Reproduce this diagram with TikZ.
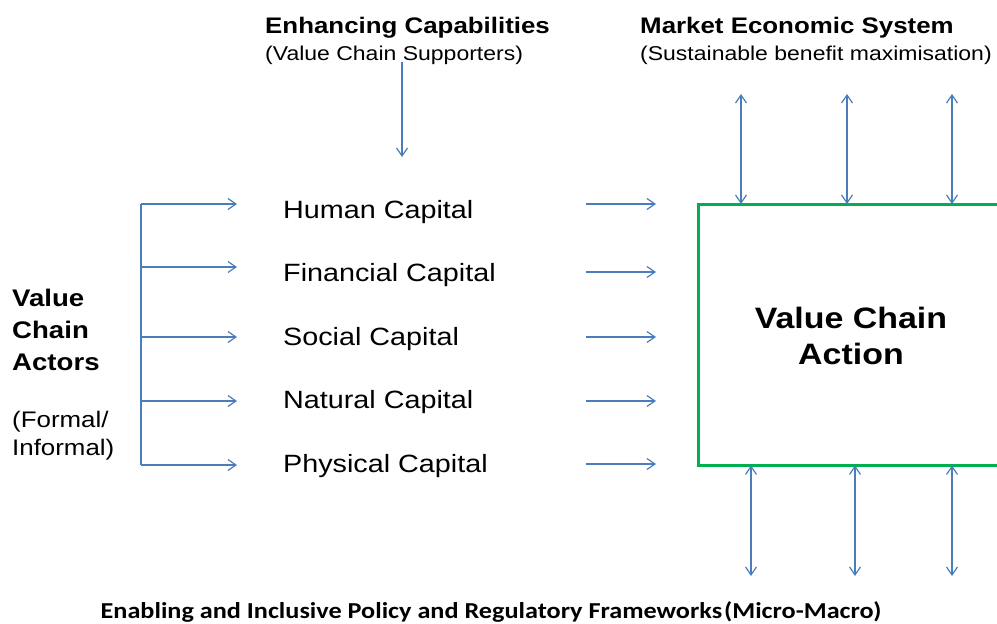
\documentclass[tikz,border=0pt]{standalone}
\usepackage{fontspec}
\setmainfont{Liberation Sans}[FakeStretch=1.15]
\newfontfamily\calibfont{Carlito}[FakeStretch=1.15]
\usetikzlibrary{arrows.meta}
\definecolor{arrblue}{HTML}{4A7EBB}
\definecolor{boxgreen}{HTML}{00B050}
\begin{document}
\begin{tikzpicture}[x=1pt,y=-1pt,
  tip/.tip={Straight Barb[length=8pt,width=11pt,line width=1.2pt]},
  conn/.style={draw=arrblue,line width=1.2pt,-tip},
  dconn/.style={draw=arrblue,line width=1.2pt,tip-tip},
  bracket/.style={draw=arrblue,line width=1.2pt},
  titletext/.style={anchor=base west,inner sep=0pt,font=\bfseries\fontsize{22.5}{27}\selectfont},
  subtext/.style={anchor=base west,inner sep=0pt,font=\fontsize{20}{24}\selectfont},
  captext/.style={anchor=base west,inner sep=0pt,font=\fontsize{25}{30}\selectfont},
  greenbox/.style={draw=boxgreen,line width=3pt},
]
\useasboundingbox (0,0) rectangle (997,624);

% titles
\node[titletext] (ect) at (265,33) {Enhancing Capabilities};
\node[subtext] (ecs) at (265,60) {(Value Chain Supporters)};
\node[titletext] (mest) at (640,33) {Market Economic System};
\node[subtext] (mess) at (640,60) {(Sustainable benefit maximisation)};

% enhancing arrow
\coordinate (e1) at (402,62);
\coordinate (e2) at (402,157);
\draw[conn] (e1) -- (e2);

% capital labels
\node[captext] (hc) at (283,218) {Human Capital};
\node[captext] (fc) at (283,281) {Financial Capital};
\node[captext] (sc) at (283,345) {Social Capital};
\node[captext] (nc) at (283,408) {Natural Capital};
\node[captext] (pc) at (283,472) {Physical Capital};

% actors
\node[anchor=west,inner sep=0pt,align=left,font=\bfseries\fontsize{24}{32}\selectfont] (vca) at (12,330) {Value\\Chain\\Actors};
\node[anchor=west,inner sep=0pt,align=left,font=\fontsize{22.5}{28}\selectfont] (fi) at (12,436) {(Formal/\\Informal)};

% bracket
\coordinate (bt) at (141,204);
\coordinate (bb) at (141,465);
\draw[bracket] (bt) -- (bb);
\foreach \y/\n in {204/1,267/2,337/3,401/4,465/5}{
  \coordinate (ls\n) at (141,\y);
  \coordinate (le\n) at (237,\y);
  \draw[conn] (ls\n) -- (le\n);
}
\foreach \y/\n in {204/1,272/2,337/3,401/4,464/5}{
  \coordinate (rs\n) at (586,\y);
  \coordinate (re\n) at (656,\y);
  \draw[conn] (rs\n) -- (re\n);
}

% box
\node[inner sep=0pt,minimum width=312pt,minimum height=261pt,anchor=north west] (box) at (698,204) {};
\begin{scope}
\clip (0,0) rectangle (997,624);
\draw[greenbox] (box.north east) -- (box.north west) -- (box.south west) -- (box.south east);
\end{scope}
\node[inner sep=0pt,align=center,font=\bfseries\fontsize{29.5}{36}\selectfont] (act) at (851,336) {Value Chain\\Action};

% vertical double arrows
\foreach \x/\n in {741/1,847/2,952/3}{
  \coordinate (tu\n) at (\x,94);
  \draw[dconn] (tu\n) -- (tu\n |- box.north);
}
\foreach \x/\n in {751/1,855/2,952/3}{
  \coordinate (bd\n) at (\x,576);
  \draw[dconn] (bd\n |- box.south) -- (bd\n);
}

% bottom text
\node[anchor=base,inner sep=0pt,font=\calibfont\bfseries\fontsize{22.8}{27}\selectfont] (pol) at (491,618.5) {Enabling and Inclusive Policy and Regulatory Frameworks\kern2pt(Micro-Macro)};
\end{tikzpicture}
\end{document}
